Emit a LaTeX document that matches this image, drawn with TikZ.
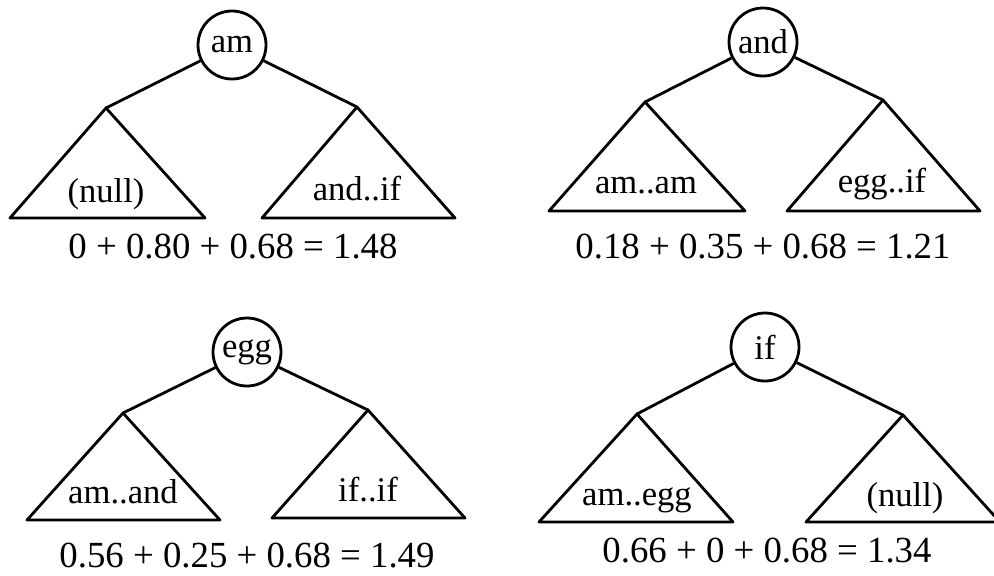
\documentclass[tikz,border=0pt]{standalone}
\usepackage{fontspec}
\setmainfont{Liberation Serif}

\begin{document}
\begin{tikzpicture}[x=0.5pt,y=-0.5pt,line width=1.4pt,line join=round,
  every node/.style={font=\fontsize{17.3}{20}\selectfont},
  key/.style={draw,circle,inner sep=0pt,minimum size=34pt},
  subtext/.style={anchor=base,inner sep=0pt},
  cost/.style={anchor=base,inner sep=0pt,font=\fontsize{18.4}{21}\selectfont}]
  \useasboundingbox (0,0) rectangle (994,575);

  % Top left: am at the root
  \node[key] (am) at (232,45) {am};
  \coordinate (amL) at (106,108);
  \coordinate (amR) at (357,107);
  \draw (am) -- (amL);
  \draw (am) -- (amR);
  \draw (amL) -- (10,218) -- (205,218) -- cycle;
  \draw (amR) -- (262,218) -- (455,218) -- cycle;
  \node[subtext] (amLt) at (106,202) {(null)};
  \node[subtext] (amRt) at (357,200) {and..if};
  \node[cost] (amC) at (233,258) {0 + 0.80 + 0.68 = 1.48};

  % Top right: and at the root
  \node[key] (and) at (763,42) {and};
  \coordinate (andL) at (645,102);
  \coordinate (andR) at (883,100);
  \draw (and) -- (andL);
  \draw (and) -- (andR);
  \draw (andL) -- (549,211) -- (745,211) -- cycle;
  \draw (andR) -- (787,211) -- (980,211) -- cycle;
  \node[subtext] (andLt) at (646,193) {am..am};
  \node[subtext] (andRt) at (882,192) {egg..if};
  \node[cost] (andC) at (763,258) {0.18 + 0.35 + 0.68 = 1.21};

  % Bottom left: egg at the root
  \node[key] (egg) at (247,352) {egg};
  \coordinate (eggL) at (123,413);
  \coordinate (eggR) at (368,410);
  \draw (egg) -- (eggL);
  \draw (egg) -- (eggR);
  \draw (eggL) -- (27,520) -- (220,520) -- cycle;
  \draw (eggR) -- (272,518) -- (465,518) -- cycle;
  \node[subtext] (eggLt) at (123,503) {am..and};
  \node[subtext] (eggRt) at (368,501) {if..if};
  \node[cost] (eggC) at (247,567) {0.56 + 0.25 + 0.68 = 1.49};

  % Bottom right: if at the root
  \node[key] (if) at (765,347) {if};
  \coordinate (ifL) at (637,414);
  \coordinate (ifR) at (903,415);
  \draw (if) -- (ifL);
  \draw (if) -- (ifR);
  \draw (ifL) -- (539,522) -- (733,522) -- cycle;
  \draw (ifR) -- (806,522) -- (1000,522) -- cycle;
  \node[subtext] (ifLt) at (637,505) {am..egg};
  \node[subtext] (ifRt) at (905,506) {(null)};
  \node[cost] (ifC) at (767,562) {0.66 + 0 + 0.68 = 1.34};
\end{tikzpicture}
\end{document}
